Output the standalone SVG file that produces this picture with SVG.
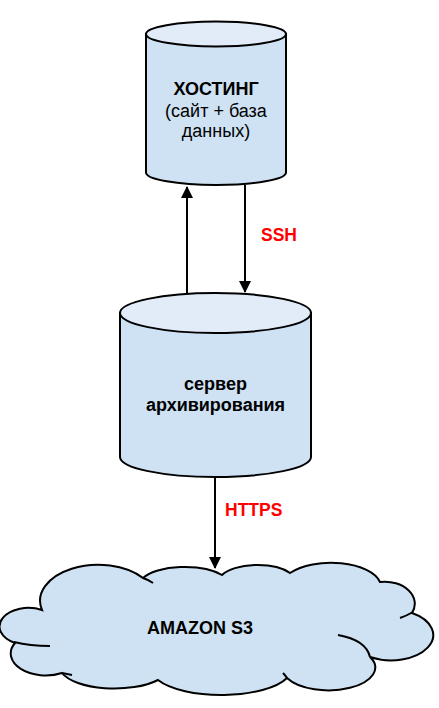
<svg xmlns="http://www.w3.org/2000/svg" width="439" height="708" viewBox="0 0 439 708">
<style>
.body{fill:#cfe2f3;stroke:#000;stroke-width:2}
.top{fill:#e1ecf8;stroke:#000;stroke-width:2}
.fold{fill:none;stroke:#000;stroke-width:2}
.b{font-family:"Liberation Sans",Arial,sans-serif;font-weight:bold;font-size:18px;fill:#000;text-anchor:middle}
.r{font-family:"Liberation Sans",Arial,sans-serif;font-size:18px;fill:#000;text-anchor:middle}
.lbl{font-family:"Liberation Sans",Arial,sans-serif;font-weight:bold;font-size:17.5px;fill:#ff0000}
.conn{stroke:#000;stroke-width:2;fill:none}
</style>
<defs>
<marker id="ah" markerUnits="userSpaceOnUse" markerWidth="12" markerHeight="14" viewBox="0 0 12 14" refX="11" refY="6" orient="auto">
<path d="M0 0 L12 6 L0 12 Z" fill="#000"/>
</marker>
</defs>
<rect width="439" height="708" fill="#fff"/>
<g id="hosting">
<path class="body" d="M146 34 L146 172.5 A70 12.5 0 0 0 286 172.5 L286 34 Z"/>
<ellipse class="top" cx="216" cy="34" rx="70" ry="12.5"/>
<text class="b" x="216" y="95">ХОСТИНГ</text>
<text class="r" x="216" y="116.5">(сайт + база</text>
<text class="r" x="216" y="137">данных)</text>
</g>
<g id="server">
<path class="body" d="M120 313 L120 457 A95.5 20 0 0 0 311 457 L311 313 Z"/>
<ellipse class="top" cx="215.5" cy="313" rx="95.5" ry="20"/>
<text class="b" x="215.5" y="390">сервер</text>
<text class="b" x="215.5" y="411">архивирования</text>
</g>
<g id="s3">
<path class="body" d="M42 610 A58 36 0 0 1 143 578 A45 18 0 0 1 222 575 A38 16 0 0 1 290 573 A50 24 0 0 1 380 582 A30 22 0 0 1 412 613 A40 24 0 0 1 370 657 A45 22 0 0 1 287 678 A70 26 0 0 1 158 680 A55 22 0 0 1 62 673 A35 22 0 0 1 15 643 A28 18 0 0 1 42 610 Z"/>
<path class="fold" d="M14 642 Q30 646 50 646"/>
<path class="fold" d="M143 578 Q149 580 153 583"/>
<path class="fold" d="M413 612 Q406 616 400 618"/>
<path class="fold" d="M338 635 Q366 640 370 657"/>
<path class="fold" d="M287 678 Q285 675 283 673"/>
<path class="fold" d="M62 673 Q67 674 72 675"/>
<text class="b" x="200" y="634">AMAZON S3</text>
</g>
<g id="connectors">
<line class="conn" x1="187" y1="293" x2="187" y2="187" marker-end="url(#ah)"/>
<line class="conn" x1="245" y1="185" x2="245" y2="292" marker-end="url(#ah)"/>
<line class="conn" x1="215" y1="477" x2="215" y2="568" marker-end="url(#ah)"/>
<text class="lbl" x="261" y="241">SSH</text>
<text class="lbl" x="225" y="516">HTTPS</text>
</g>
</svg>
